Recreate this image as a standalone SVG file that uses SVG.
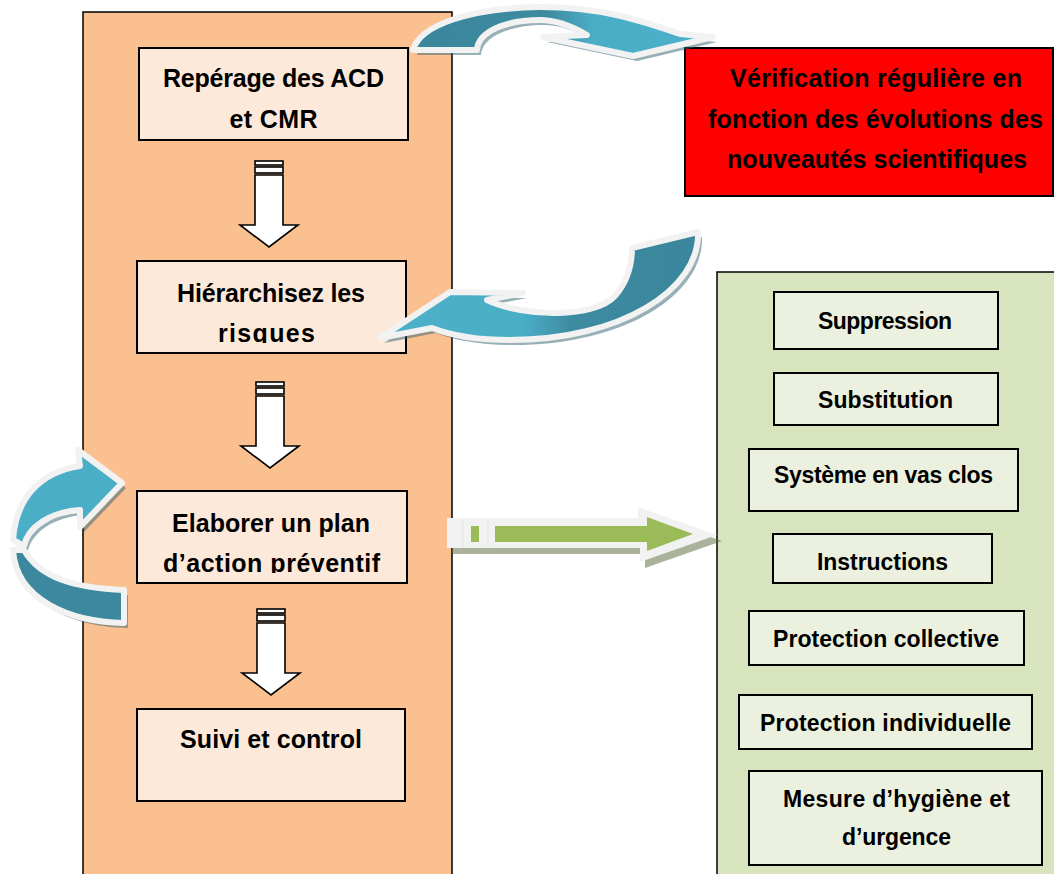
<svg xmlns="http://www.w3.org/2000/svg" width="1054" height="874" viewBox="0 0 1054 874">
<style>
.panel{stroke:#000;stroke-width:1.5}
.box{fill:#fde9d9;stroke:#000;stroke-width:2}
.gbox{fill:#ebf1de;stroke:#000;stroke-width:2}
.t{font-family:"Liberation Sans",Arial,sans-serif;font-weight:bold;font-size:25px;fill:#000;text-anchor:middle}
.g{font-size:23px}
.dn{fill:#fff;stroke:#000;stroke-width:1.6}
.sh{fill:#2f6070;opacity:0.5}
.ol{stroke:#f2f2f2;stroke-width:6;stroke-linejoin:round}
</style>
<defs>
<linearGradient id="gA" x1="0" y1="0" x2="1" y2="0">
<stop offset="0" stop-color="#3a869c"/><stop offset="0.45" stop-color="#3d8ba1"/><stop offset="0.6" stop-color="#4aaec7"/><stop offset="1" stop-color="#4bb0c8"/>
</linearGradient>
<linearGradient id="gB" x1="0" y1="0" x2="1" y2="0">
<stop offset="0" stop-color="#4bb0c8"/><stop offset="0.45" stop-color="#4aaec7"/><stop offset="0.6" stop-color="#3d8ba1"/><stop offset="1" stop-color="#3a869c"/>
</linearGradient>
<g id="down">
<rect class="dn" x="-14" y="0" width="28" height="4"/>
<rect class="dn" x="-14" y="6" width="28" height="6"/>
<path class="dn" d="M-14,14 H14 V64 H29 L0,86 L-29,64 H-14 Z"/>
</g>
<clipPath id="c2"><rect x="137" y="261" width="270" height="82"/></clipPath>
<clipPath id="c3"><rect x="137" y="491" width="271" height="82"/></clipPath>
</defs>

<g id="panel-left"><rect class="panel" x="83" y="12" width="369" height="880" fill="#fac090"/></g>
<g id="panel-right"><rect class="panel" x="717" y="272" width="350" height="620" fill="#d7e4bd"/></g>

<g id="n1">
<rect class="box" x="139" y="48" width="269" height="92"/>
<text class="t" x="273.5" y="87" textLength="221">Repérage des ACD</text>
<text class="t" x="273.5" y="128" textLength="88">et CMR</text>
</g>
<g id="n2">
<rect class="box" x="137" y="261" width="269" height="92"/>
<g clip-path="url(#c2)">
<text class="t" x="271" y="302" textLength="188">Hiérarchisez les</text>
<text class="t" x="266.5" y="342" textLength="97">risques</text>
</g>
</g>
<g id="n3">
<rect class="box" x="137" y="491" width="270" height="92"/>
<g clip-path="url(#c3)">
<text class="t" x="271" y="532" textLength="198">Elaborer un plan</text>
<text class="t" x="271.5" y="572" textLength="217">d’action préventif</text>
</g>
</g>
<g id="n4">
<rect class="box" x="137" y="709" width="268" height="92"/>
<text class="t" x="271" y="748" textLength="182">Suivi et control</text>
</g>
<g id="n5">
<rect x="685" y="48" width="368" height="148" fill="#ff0000" stroke="#000" stroke-width="2"/>
<text class="t" x="876" y="87" textLength="292">Vérification régulière en</text>
<text class="t" x="875.5" y="128" textLength="335">fonction des évolutions des</text>
<text class="t" x="877" y="168" textLength="300">nouveautés scientifiques</text>
</g>
<g id="n6"><rect class="gbox" x="774" y="292" width="224" height="57"/><text class="t g" x="885" y="329" textLength="134">Suppression</text></g>
<g id="n7"><rect class="gbox" x="774" y="373" width="224" height="52"/><text class="t g" x="885.5" y="408" textLength="135">Substitution</text></g>
<g id="n8"><rect class="gbox" x="749" y="449" width="269" height="62"/><text class="t g" x="883.5" y="483" textLength="219">Système en vas clos</text></g>
<g id="n9"><rect class="gbox" x="773" y="534" width="219" height="49"/><text class="t g" x="882.5" y="570" textLength="131">Instructions</text></g>
<g id="n10"><rect class="gbox" x="749" y="611" width="275" height="54"/><text class="t g" x="886" y="647" textLength="226">Protection collective</text></g>
<g id="n11"><rect class="gbox" x="739" y="695" width="293" height="54"/><text class="t g" x="885.5" y="731" textLength="251">Protection individuelle</text></g>
<g id="n12"><rect class="gbox" x="749" y="771" width="293" height="94"/>
<text class="t g" x="896.5" y="807" textLength="227">Mesure d’hygiène et</text>
<text class="t g" x="896.5" y="845" textLength="109">d’urgence</text></g>

<g id="connectors">
<use href="#down" x="269" y="161"/>
<use href="#down" x="270" y="382"/>
<use href="#down" x="271" y="609"/>

<g id="arrowTop">
<path class="sh" transform="translate(4,5)" d="M413,50 C420,25 470,8 540,7 C600,7 640,20 680,34 L713,37 L633,56 L543,37 L587,35 C570,25 555,20 540,20 C505,20 478,32 477,50 Z"/>
<path class="ol" fill="url(#gA)" d="M413,50 C420,25 470,8 540,7 C600,7 640,20 680,34 L713,37 L633,56 L543,37 L587,35 C570,25 555,20 540,20 C505,20 478,32 477,50 Z"/>
</g>
<g id="arrowMid">
<path class="sh" transform="translate(4,5)" d="M632,248 L698,232 C700,290 620,340 510,340 C475,340 450,335 432,328 L380,338 L450,292 L523,293 L487,300 C525,318 595,318 615,296 C627,282 632,265 632,248 Z"/>
<path class="ol" fill="url(#gB)" d="M632,248 L698,232 C700,290 620,340 510,340 C475,340 450,335 432,328 L380,338 L450,292 L523,293 L487,300 C525,318 595,318 615,296 C627,282 632,265 632,248 Z"/>
</g>
<g id="arrowLeft">
<path class="sh" transform="translate(4,5)" d="M13,540 C16,498 40,472 80,466 L78,450 L122,483 L80,527 L80,510 C50,512 28,527 24,546 Z"/>
<path class="sh" transform="translate(4,5)" d="M13,550 C16,600 70,622 124,623 L124,590 C75,588 40,578 24,550 Z"/>
<path class="ol" fill="#3c899f" d="M13,550 C16,600 70,622 124,623 L124,590 C75,588 40,578 24,550 Z"/>
<path class="ol" fill="#4baec7" d="M13,540 C16,498 40,472 80,466 L78,450 L122,483 L80,527 L80,510 C50,512 28,527 24,546 Z"/>
</g>
<g id="arrowGreen">
<path fill="#55663a" opacity="0.5" transform="translate(5,6)" d="M447,518 L638,518 L638,507 L717,535 L640,562 L640,548 L447,548 Z"/>
<path fill="#f2f2f2" d="M447,518 L638,518 L638,507 L717,535 L640,562 L640,548 L447,548 Z"/>
<rect x="471" y="526" width="8" height="16" fill="#9bbb59"/>
<rect x="495" y="526" width="153" height="16" fill="#9bbb59"/>
<path fill="#9bbb59" d="M647,517 L693,534 L647,551 Z"/>
<line x1="463" y1="520" x2="463" y2="547" stroke="#e4e4e4" stroke-width="1"/>
<line x1="488" y1="520" x2="488" y2="547" stroke="#e4e4e4" stroke-width="1"/>
</g>
</g>
</svg>
